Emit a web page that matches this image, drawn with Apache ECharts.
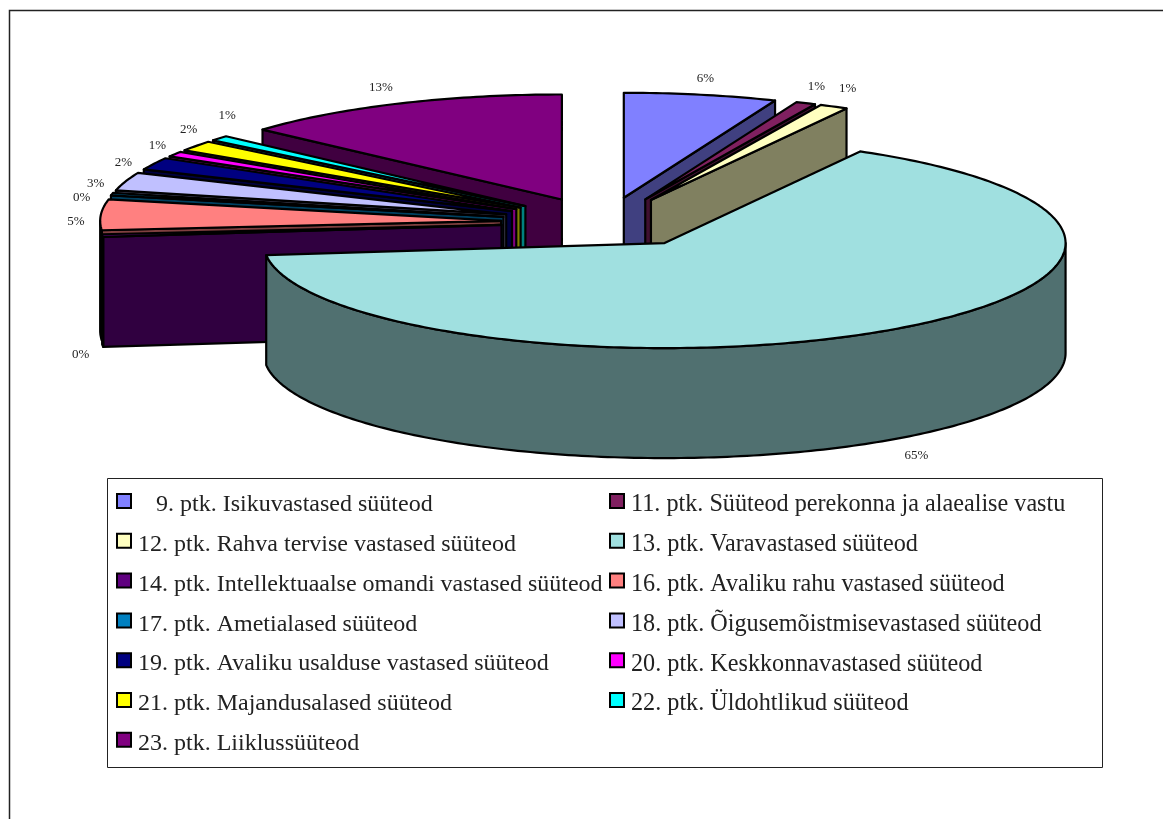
<!DOCTYPE html>
<html>
<head>
<meta charset="utf-8">
<style>html,body{margin:0;padding:0;background:#fff}#c{width:1163px;height:819px}</style>
<script src="https://cdn.jsdelivr.net/npm/echarts@6/dist/echarts.min.js"></script>
</head>
<body>
<div id="c"></div>
<script>
const categories = [
  '9. ptk. Isikuvastased süüteod',
  '11. ptk. Süüteod perekonna ja alaealise vastu',
  '12. ptk. Rahva tervise vastased süüteod',
  '13. ptk. Varavastased süüteod',
  '14. ptk. Intellektuaalse omandi vastased süüteod',
  '16. ptk. Avaliku rahu vastased süüteod',
  '17. ptk. Ametialased süüteod',
  '18. ptk. Õigusemõistmisevastased süüteod',
  '19. ptk. Avaliku usalduse vastased süüteod',
  '20. ptk. Keskkonnavastased süüteod',
  '21. ptk. Majandusalased süüteod',
  '22. ptk. Üldohtlikud süüteod',
  '23. ptk. Liiklussüüteod'
];
const values = [6.15, 0.8, 1.15, 65, 0.4, 4.7, 0.4, 2.8, 1.9, 0.8, 1.6, 0.8, 13.4];
const percentLabels = ['6%','1%','1%','65%','0%','5%','0%','3%','2%','1%','2%','1%','13%'];
const topColors = ['#8080FF','#802060','#FFFFC0','#A0E0E0','#600080','#FF8080','#0080C0','#C0C0FF','#000080','#FF00FF','#FFFF00','#00FFFF','#800080'];
const sideColors = ['#404080','#401030','#808060','#507070','#300040','#804040','#004060','#606080','#000040','#800080','#808000','#008080','#400040'];
// back-to-front painting order (indices into categories)
const drawOrder = [0,1,2,12,11,10,9,8,7,6,5,4,3];
// how far each slice is pulled out of the pie, relative to the common explosion
const explodeScale = [1,1,1,1.06,1,1,1,1,1,1,1,1,1];
// hand placement of the percent labels relative to the rim
const labelNudge = [[0,-1],[1,-3],[3,-5],[16,3],[2,7],[-1,8],[-7,7],[-7,7],[-9,6],[3,-1],[12,-8],[26,-13],[-7,-2]];

const PIE = {cx:604, cy:222.3, rx:401, ry:105, ex:103, ey:25, depth:110};
const total = values.reduce((a,b)=>a+b,0);
const STROKE = {stroke:'#000', lineWidth:2.2, lineJoin:'round'};

function sliceItem(idx){
  return function(params, api){
    let before = 0;
    for(let i=0;i<idx;i++) before += values[i];
    const a0 = before/total*2*Math.PI;
    const a1 = (before+api.value(0))/total*2*Math.PI;
    const mid = (a0+a1)/2;
    const ax = PIE.cx + PIE.ex*explodeScale[idx]*Math.sin(mid);
    const ay = PIE.cy - PIE.ey*Math.cos(mid);
    const rim = t => [ax+PIE.rx*Math.sin(t), ay-PIE.ry*Math.cos(t)];
    const down = p => [p[0], p[1]+PIE.depth];
    const arc = (s,e) => { const n=Math.max(2,Math.ceil((e-s)*60)); const r=[]; for(let i=0;i<=n;i++) r.push(rim(s+(e-s)*i/n)); return r; };
    const children = [];
    const poly = (pts,fill) => children.push({type:'polygon',shape:{points:pts},style:Object.assign({fill},STROKE)});
    const side = sideColors[idx], top = topColors[idx];
    const apex = [ax,ay];
    if(Math.sin(a0) < 0){ const p=rim(a0); poly([apex,p,down(p),down(apex)],side); }
    if(Math.sin(a1) > 0){ const p=rim(a1); poly([apex,p,down(p),down(apex)],side); }
    const s = Math.max(a0,Math.PI/2), e = Math.min(a1,1.5*Math.PI);
    if(e > s){ const up=arc(s,e); poly(up.concat(up.map(down).reverse()),side); }
    poly([apex].concat(arc(a0,a1)),top);
    // percent label, pushed outward from the rim
    const front = Math.cos(mid) < 0;
    const lx = ax + (PIE.rx+24)*Math.sin(mid) + labelNudge[idx][0];
    const ly = ay - (PIE.ry+15)*Math.cos(mid) + (front?PIE.depth:0) + labelNudge[idx][1];
    children.push({type:'text',style:{text:percentLabels[idx],x:lx,y:ly,align:'center',verticalAlign:'middle',
      font:'13px "Liberation Serif"',fill:'#222'}});
    return {type:'group',children};
  };
}

const series = drawOrder.map((idx,k)=>({
  type:'custom', name:categories[idx], coordinateSystem:'none', silent:true, animation:false,
  z:2+k, itemStyle:{color:topColors[idx]}, data:[values[idx]], renderItem:sliceItem(idx)
}));

const legendBase = {
  orient:'vertical', icon:'rect', itemWidth:14, itemHeight:14, itemGap:7.8, selectedMode:false, padding:0,
  itemStyle:{borderColor:'#000',borderWidth:2}
};
const legendText = size => ({fontFamily:'"Liberation Serif"',fontSize:size,color:'#222',
  rich:{t:{fontFamily:'"Liberation Serif"',fontSize:size,lineHeight:24,color:'#222',padding:[8,0,0,2]}}});
const chart = echarts.init(document.getElementById('c'),null,{renderer:'canvas'});
chart.setOption({
  backgroundColor:'#fff', animation:false,
  graphic:[
    {type:'rect',z:0,shape:{x:9.5,y:10.5,width:1300,height:1000},style:{fill:'#fff',stroke:'#222',lineWidth:1.5}},
    {type:'rect',z:1,shape:{x:107.5,y:478.5,width:995,height:289},style:{fill:'#fff',stroke:'#222',lineWidth:1}}
  ],
  legend:[
    Object.assign({},legendBase,{left:116,top:485,z:50,textStyle:legendText(24),
      data:categories.filter((c,i)=>i%2===0),
      formatter:n=>'{t|'+(n.startsWith('9.')?'\u00a0\u00a0\u00a0'+n:n)+'}'}),
    Object.assign({},legendBase,{left:609,top:485,z:50,textStyle:legendText(24.2),
      data:categories.filter((c,i)=>i%2===1),
      formatter:n=>'{t|'+n+'}'})
  ],
  series
});
</script>
</body>
</html>
